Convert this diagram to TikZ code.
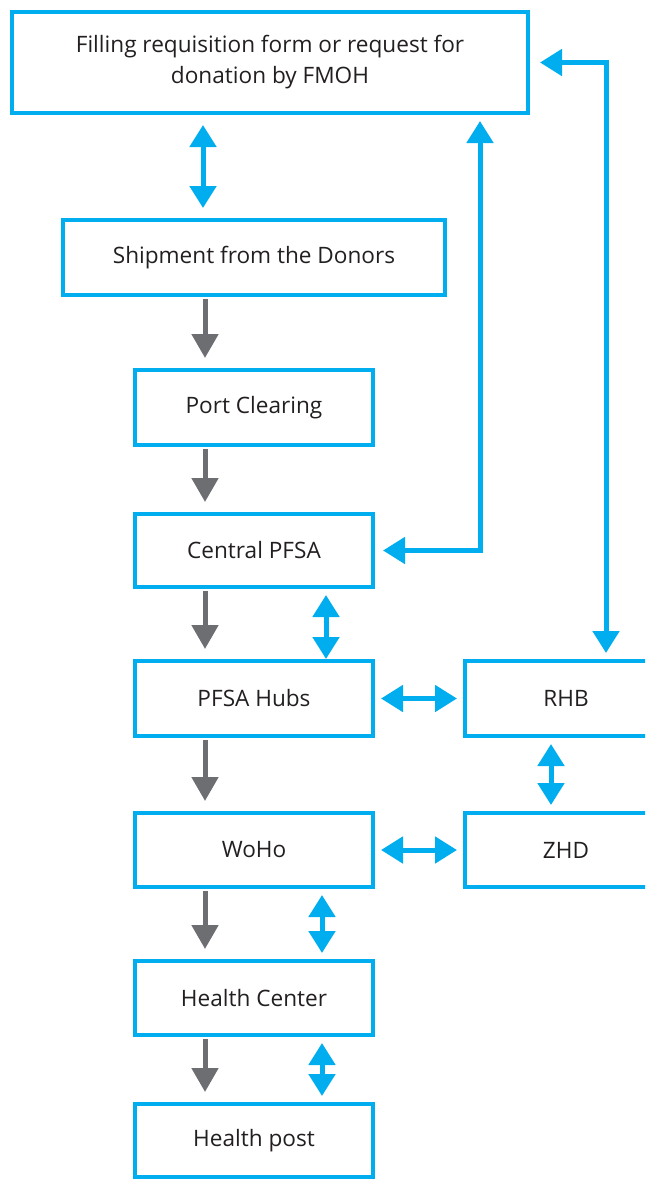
\documentclass[tikz,border=0pt]{standalone}
\usepackage{fontspec}
\setmainfont{Open Sans}
\usetikzlibrary{arrows.meta}
\definecolor{flowblue}{HTML}{00AEEF}
\definecolor{flowgray}{HTML}{6D6E71}
\definecolor{flowtext}{HTML}{231F20}
\begin{document}
\begin{tikzpicture}[x=0.5pt,y=-0.5pt,
    box/.style={draw=flowblue,line width=2pt,minimum width=119pt,minimum height=37.5pt,
        text=flowtext,font=\fontsize{11.3}{15.5}\selectfont,align=center},
    dbl/.style={flowblue,line width=2.5pt,{Triangle[width=13pt,length=11pt]}-{Triangle[width=13pt,length=11pt]},
        shorten <=3pt,shorten >=3pt},
    down/.style={flowgray,line width=2.5pt,-{Triangle[width=13pt,length=12pt]},shorten <=1pt,shorten >=5pt}]
    \clip (0,0) rectangle (645,1179);
    \node[box,minimum width=258pt,minimum height=50.5pt] (fmoh) at (270,62.5)
        {Filling requisition form or request for\\donation by FMOH};
    \node[box,minimum width=191pt] (ship) at (254,257.5) {Shipment from the Donors};
    \node[box] (port) at (254,407.5) {Port Clearing};
    \node[box,minimum height=36.5pt] (central) at (254,550.5) {Central PFSA};
    \node[box] (hubs) at (254,698.5) {PFSA Hubs};
    \node[box,minimum height=37pt] (woho) at (254,850) {WoHo};
    \node[box,minimum height=37pt] (hc) at (254,998) {Health Center};
    \node[box,minimum height=36.5pt] (hp) at (254,1140.5) {Health post};
    \node[box,minimum width=101pt] (rhb) at (566,698.5) {RHB};
    \node[box,minimum width=101pt,minimum height=37pt] (zhd) at (566,850) {ZHD};

    \foreach \a/\b in {ship/port, port/central, central/hubs, hubs/woho, woho/hc, hc/hp}
        \draw[down] (\a.south -| 205,0) -- (\b.north -| 205,0);

    \draw[dbl,shorten <=5pt,shorten >=5pt] (fmoh.south -| 203,0) -- (ship.north -| 203,0);
    \draw[dbl,shorten >=0pt] (central.south -| 326,0) -- (hubs.north -| 326,0);
    \draw[dbl] (woho.south -| 322,0) -- (hc.north -| 322,0);
    \draw[dbl] (hc.south -| 322,0) -- (hp.north -| 322,0);
    \draw[dbl] (hubs.east) -- (rhb.west);
    \draw[dbl] (woho.east) -- (zhd.west |- woho.east);
    \draw[dbl] (rhb.south -| 551,0) -- (zhd.north -| 551,0);
    \draw[dbl,shorten >=4pt] (fmoh.south -| 480,0) |- (central.east);
    \draw[dbl,shorten <=5pt] (fmoh.east) -| (rhb.north -| 606,0);
\end{tikzpicture}
\end{document}
